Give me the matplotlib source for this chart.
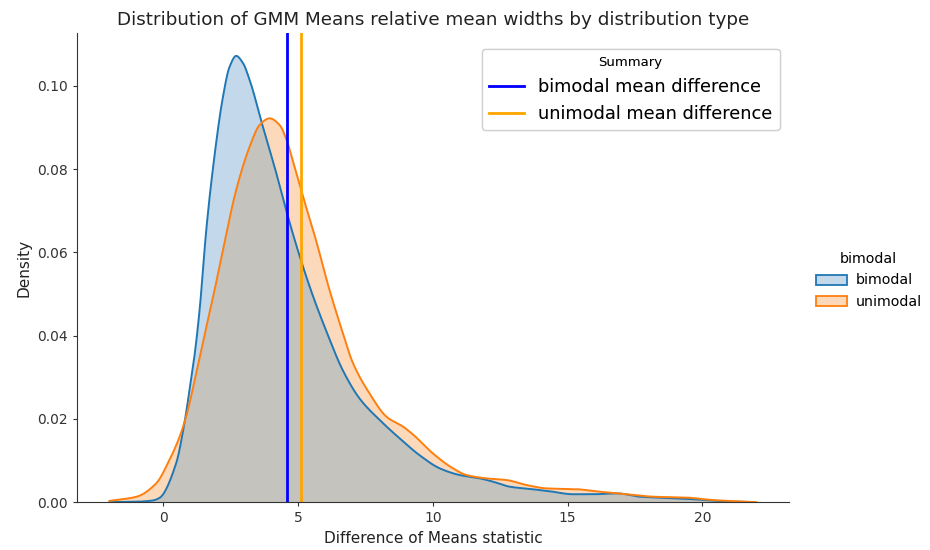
import numpy as np
import matplotlib
matplotlib.use("Agg")
import matplotlib.pyplot as plt
from matplotlib.lines import Line2D
from matplotlib.patches import Patch

# KDE curves (x = Difference of Means statistic, y = density)
bimodal_x = [-2.0, -1.0, -0.4, -0.15, 0.47, 0.78, 0.97, 1.15, 1.34, 1.59, 1.83, 2.21, 2.45, 2.70,
             2.95, 3.2, 3.69, 4.19, 4.56, 5.06, 5.55, 6.05, 6.67, 7.29, 8.03, 8.77, 9.52,
             10.26, 11.0, 11.75, 12.24, 12.86, 13.7, 14.35, 15.2, 15.95, 16.84, 17.7, 18.7,
             19.67, 20.55, 21.9]
bimodal_y = [0.0, 0.0001, 0.0004, 0.001, 0.0093, 0.019, 0.027, 0.035, 0.046, 0.0654, 0.0798,
             0.0974, 0.1045, 0.1072, 0.1055, 0.1014, 0.0902, 0.079, 0.070, 0.059, 0.0495, 0.041,
             0.0315, 0.0248, 0.0197, 0.0153, 0.0112, 0.0081, 0.0065, 0.0057, 0.0049, 0.0037,
             0.0031, 0.0026, 0.0019, 0.0019, 0.0021, 0.0013, 0.001, 0.0007, 0.0003, 0.0]

unimodal_x = [-2.0, -1.0, -0.27, 0.22, 0.6, 0.84, 1.22, 1.59, 1.9, 2.21, 2.7, 3.2, 3.57, 3.94,
              4.31, 4.56, 4.81, 5.18, 5.68, 6.05, 6.54, 7.04, 7.66, 8.28, 8.9, 9.27, 10.0,
              10.75, 11.25, 12.0, 12.74, 13.48, 14.23, 15.34, 16.2, 17.2, 18.2, 19.4, 20.4, 22.0]
unimodal_y = [0.0003, 0.0013, 0.0045, 0.0101, 0.0157, 0.0205, 0.031, 0.042, 0.051, 0.0606,
              0.075, 0.0854, 0.0906, 0.0922, 0.0906, 0.0872, 0.0818, 0.0734, 0.0625, 0.0535,
              0.043, 0.0333, 0.026, 0.0205, 0.0181, 0.0162, 0.0117, 0.0081, 0.0065, 0.0057,
              0.0053, 0.0041, 0.0033, 0.0031, 0.0025, 0.0019, 0.0013, 0.0011, 0.0005, 0.0]

bimodal_mean = 4.57
unimodal_mean = 5.09

hue_labels = ["bimodal", "unimodal"]
summary_labels = ["bimodal mean difference", "unimodal mean difference"]


def pchip(xp, yp, xq):
    """Shape-preserving cubic (Fritsch-Carlson) through the read points, for a smooth line."""
    xp = np.asarray(xp, float); yp = np.asarray(yp, float)
    h = np.diff(xp); d = np.diff(yp) / h
    m = np.zeros_like(yp)
    for k in range(1, len(xp) - 1):
        if d[k - 1] * d[k] > 0:
            w1 = 2 * h[k] + h[k - 1]; w2 = h[k] + 2 * h[k - 1]
            m[k] = (w1 + w2) / (w1 / d[k - 1] + w2 / d[k])
    m[0] = d[0]; m[-1] = d[-1]
    idx = np.clip(np.searchsorted(xp, xq) - 1, 0, len(xp) - 2)
    t = (xq - xp[idx]) / h[idx]
    h00 = 2 * t**3 - 3 * t**2 + 1; h10 = t**3 - 2 * t**2 + t
    h01 = -2 * t**3 + 3 * t**2; h11 = t**3 - t**2
    return (h00 * yp[idx] + h10 * h[idx] * m[idx] + h01 * yp[idx + 1]
            + h11 * h[idx] * m[idx + 1])


plt.rcParams['font.family'] = ['DejaVu Sans']

fig = plt.figure(figsize=(9.3, 5.5), dpi=100)
ax = fig.add_axes([0.083, 0.087, 0.765, 0.853])

bgx = np.linspace(bimodal_x[0], bimodal_x[-1], 1500)
ugx = np.linspace(unimodal_x[0], unimodal_x[-1], 1500)
bgy = np.clip(pchip(bimodal_x, bimodal_y, bgx), 0, None)
ugy = np.clip(pchip(unimodal_x, unimodal_y, ugx), 0, None)

grid = np.linspace(-2.0, 22.0, 2000)
bg = np.interp(grid, bgx, bgy, left=0, right=0)
ug = np.interp(grid, ugx, ugy, left=0, right=0)

blue = "#1f77b4"
orange = "#ff7f0e"
ax.fill_between(bgx, bgy, color="#c3d8ea", lw=0)
ax.fill_between(ugx, ugy, color="#fdd9bc", lw=0)
ax.fill_between(grid, np.minimum(bg, ug), color="#c4c3bd", lw=0)
ax.plot(bgx, bgy, color=blue, lw=1.4)
ax.plot(ugx, ugy, color=orange, lw=1.4)

ax.axvline(bimodal_mean, color="blue", lw=2)
ax.axvline(unimodal_mean, color="orange", lw=2)

ax.set_xlim(-3.2, 23.2)
ax.set_ylim(0, 0.1127)
ax.set_xticks([0, 5, 10, 15, 20])
yt = [0.0, 0.02, 0.04, 0.06, 0.08, 0.10]
ax.set_yticks(yt)
ax.set_yticklabels([f"{v:.2f}" for v in yt])
for s in ["top", "right"]:
    ax.spines[s].set_visible(False)
for s in ["left", "bottom"]:
    ax.spines[s].set_color("#333333")
ax.tick_params(axis="both", colors="#333333", labelsize=10, length=3)
ax.set_xlabel("Difference of Means statistic", fontsize=11, color="#222222")
ax.set_ylabel("Density", fontsize=11, color="#222222")
ax.set_title("Distribution of GMM Means relative mean widths by distribution type",
             fontsize=13.2, color="#222222")

handles = [Line2D([], [], color="blue", lw=2), Line2D([], [], color="orange", lw=2)]
leg = ax.legend(handles, summary_labels, title="Summary", loc="upper right",
                fontsize=12.8, title_fontsize=9.5, bbox_to_anchor=(1.0, 0.985))
ax.add_artist(leg)

patches = [Patch(facecolor="#c3d8ea", edgecolor=blue, lw=1.3),
           Patch(facecolor="#fdd9bc", edgecolor=orange, lw=1.3)]
fig.legend(patches, hue_labels, title="bimodal", loc="center left",
           bbox_to_anchor=(0.868, 0.49), frameon=False, fontsize=10.2, title_fontsize=10.2,
           handlelength=2.2, handletextpad=0.6, borderaxespad=0.2)

fig.savefig("out.png", dpi=100)
